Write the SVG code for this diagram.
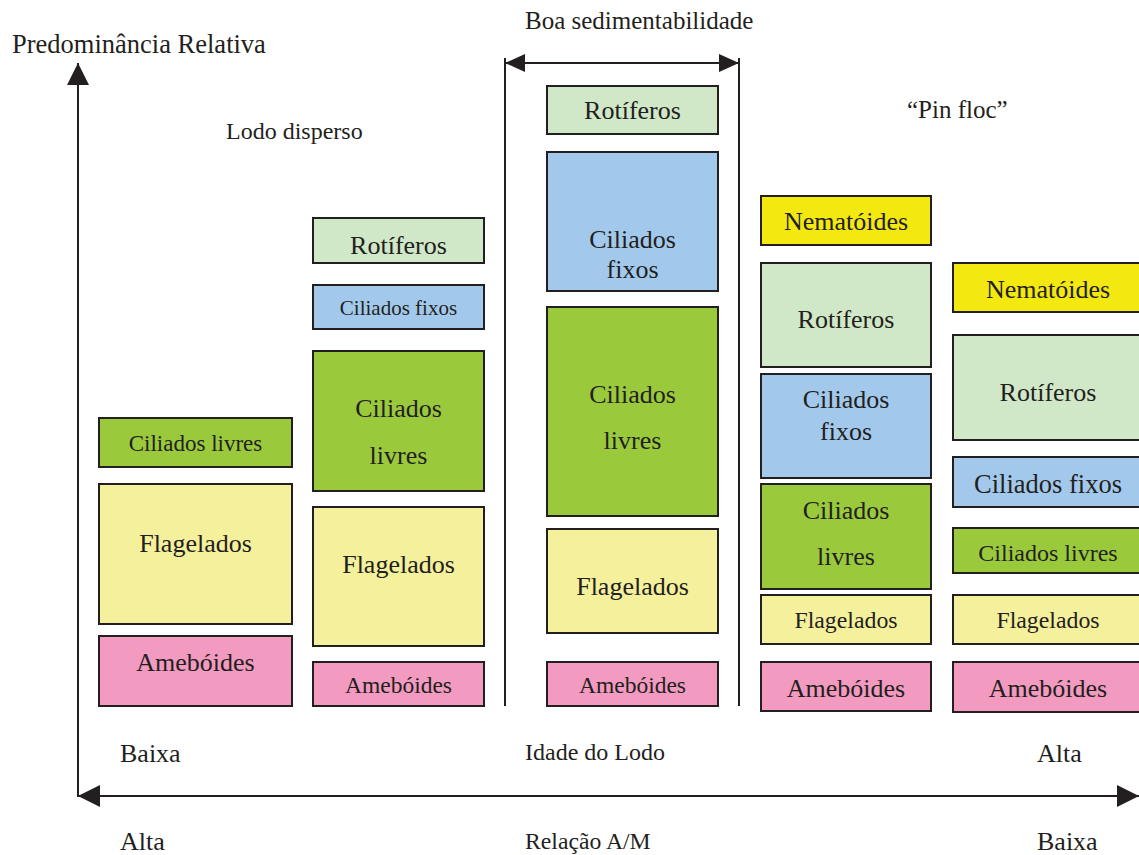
<svg xmlns="http://www.w3.org/2000/svg" width="1139" height="855" viewBox="0 0 1139 855" font-family="'Liberation Serif', 'Times New Roman', serif">
<defs>
<marker id="ah" markerUnits="userSpaceOnUse" markerWidth="22" markerHeight="22" viewBox="0 0 20 20" refX="20" refY="10" orient="auto-start-reverse">
<path d="M0,0 L20,10 L0,20 Z" fill="#231f20"/>
</marker>
<marker id="ahs" markerUnits="userSpaceOnUse" markerWidth="20" markerHeight="20" viewBox="0 0 20 18" refX="20" refY="9" orient="auto-start-reverse">
<path d="M0,0 L20,9 L0,18 Z" fill="#231f20"/>
</marker>
</defs>
<style>
text{fill:#231f20}
.c{text-anchor:middle}
rect{stroke:#231f20;stroke-width:2}
.rot{fill:#d0e8c8}
.fix{fill:#a2c9ec}
.liv{fill:#9aca3c}
.fla{fill:#f5f09b}
.ame{fill:#f39ac0}
.nem{fill:#f3e80f}
.ln{stroke:#231f20;stroke-width:2;fill:none}
</style>
<rect width="1139" height="855" fill="#ffffff" style="stroke:none"/>

<g id="labels" font-family="Liberation Serif">
<text x="12" y="53" font-size="26.5">Predominância Relativa</text>
<text x="226" y="139" font-size="24">Lodo disperso</text>
<text x="525" y="29" font-size="25">Boa sedimentabilidade</text>
<text x="907" y="118" font-size="25">“Pin floc”</text>
<text x="120" y="762" font-size="26">Baixa</text>
<text x="525" y="760" font-size="24">Idade do Lodo</text>
<text x="1037" y="762" font-size="26">Alta</text>
<text x="120" y="850" font-size="26">Alta</text>
<text x="525" y="849" font-size="23.7">Relação A/M</text>
<text x="1037" y="850" font-size="26">Baixa</text>
</g>

<g id="connectors">
<line class="ln" x1="78" y1="797" x2="78" y2="63" marker-end="url(#ah)"/>
<line class="ln" x1="78" y1="796" x2="1139" y2="796" marker-start="url(#ah)" marker-end="url(#ah)"/>
<line class="ln" x1="505" y1="63" x2="739" y2="63" marker-start="url(#ahs)" marker-end="url(#ahs)"/>
<line class="ln" x1="505" y1="58" x2="505" y2="706"/>
<line class="ln" x1="739" y1="58" x2="739" y2="706"/>
</g>

<g id="col1" font-family="Liberation Serif">
<g id="c1-liv"><rect class="liv" x="99" y="418" width="193" height="49"/><text class="c" x="195.5" y="451" font-size="23">Ciliados livres</text></g>
<g id="c1-fla"><rect class="fla" x="99" y="484" width="193" height="140"/><text class="c" x="195.5" y="552" font-size="26">Flagelados</text></g>
<g id="c1-ame"><rect class="ame" x="99" y="636" width="193" height="70"/><text class="c" x="195.5" y="671" font-size="26">Amebóides</text></g>
</g>

<g id="col2" font-family="Liberation Serif">
<g id="c2-rot"><rect class="rot" x="313" y="218" width="171" height="45"/><text class="c" x="398.5" y="254" font-size="26">Rotíferos</text></g>
<g id="c2-fix"><rect class="fix" x="313" y="285" width="171" height="44"/><text class="c" x="398.5" y="315" font-size="21">Ciliados fixos</text></g>
<g id="c2-liv"><rect class="liv" x="313" y="351" width="171" height="140"/><text class="c" x="398.5" y="417" font-size="26">Ciliados</text><text class="c" x="398.5" y="464" font-size="26">livres</text></g>
<g id="c2-fla"><rect class="fla" x="313" y="507" width="171" height="139"/><text class="c" x="398.5" y="573" font-size="26">Flagelados</text></g>
<g id="c2-ame"><rect class="ame" x="313" y="662" width="171" height="44"/><text class="c" x="398.5" y="693" font-size="23.5">Amebóides</text></g>
</g>

<g id="col3" font-family="Liberation Serif">
<g id="c3-rot"><rect class="rot" x="547" y="86" width="171" height="48"/><text class="c" x="632.5" y="119" font-size="26">Rotíferos</text></g>
<g id="c3-fix"><rect class="fix" x="547" y="152" width="171" height="139"/><text class="c" x="632.5" y="248" font-size="26">Ciliados</text><text class="c" x="632.5" y="278" font-size="26">fixos</text></g>
<g id="c3-liv"><rect class="liv" x="547" y="307" width="171" height="209"/><text class="c" x="632.5" y="403" font-size="26">Ciliados</text><text class="c" x="632.5" y="449" font-size="26">livres</text></g>
<g id="c3-fla"><rect class="fla" x="547" y="529" width="171" height="104"/><text class="c" x="632.5" y="595" font-size="26">Flagelados</text></g>
<g id="c3-ame"><rect class="ame" x="547" y="662" width="171" height="44"/><text class="c" x="632.5" y="693" font-size="23.5">Amebóides</text></g>
</g>

<g id="col4" font-family="Liberation Serif">
<g id="c4-nem"><rect class="nem" x="761" y="196" width="170" height="49"/><text class="c" x="846" y="230" font-size="26">Nematóides</text></g>
<g id="c4-rot"><rect class="rot" x="761" y="263" width="170" height="104"/><text class="c" x="846" y="328" font-size="26">Rotíferos</text></g>
<g id="c4-fix"><rect class="fix" x="761" y="374" width="170" height="104"/><text class="c" x="846" y="408" font-size="26">Ciliados</text><text class="c" x="846" y="440" font-size="26">fixos</text></g>
<g id="c4-liv"><rect class="liv" x="761" y="484" width="170" height="105"/><text class="c" x="846" y="519" font-size="26">Ciliados</text><text class="c" x="846" y="565" font-size="26">livres</text></g>
<g id="c4-fla"><rect class="fla" x="761" y="595" width="170" height="49"/><text class="c" x="846" y="628" font-size="23.8">Flagelados</text></g>
<g id="c4-ame"><rect class="ame" x="761" y="662" width="170" height="49"/><text class="c" x="846" y="697" font-size="26">Amebóides</text></g>
</g>

<g id="col5" font-family="Liberation Serif">
<g id="c5-nem"><rect class="nem" x="953" y="263" width="192" height="49"/><text class="c" x="1048" y="298" font-size="26">Nematóides</text></g>
<g id="c5-rot"><rect class="rot" x="953" y="335" width="192" height="105"/><text class="c" x="1048" y="401" font-size="26">Rotíferos</text></g>
<g id="c5-fix"><rect class="fix" x="953" y="457" width="192" height="50"/><text class="c" x="1048" y="493" font-size="26.5">Ciliados fixos</text></g>
<g id="c5-liv"><rect class="liv" x="953" y="528" width="192" height="45"/><text class="c" x="1048" y="561" font-size="24">Ciliados livres</text></g>
<g id="c5-fla"><rect class="fla" x="953" y="595" width="192" height="49"/><text class="c" x="1048" y="628" font-size="23.8">Flagelados</text></g>
<g id="c5-ame"><rect class="ame" x="953" y="662" width="192" height="50"/><text class="c" x="1048" y="697" font-size="26">Amebóides</text></g>
</g>
</svg>
